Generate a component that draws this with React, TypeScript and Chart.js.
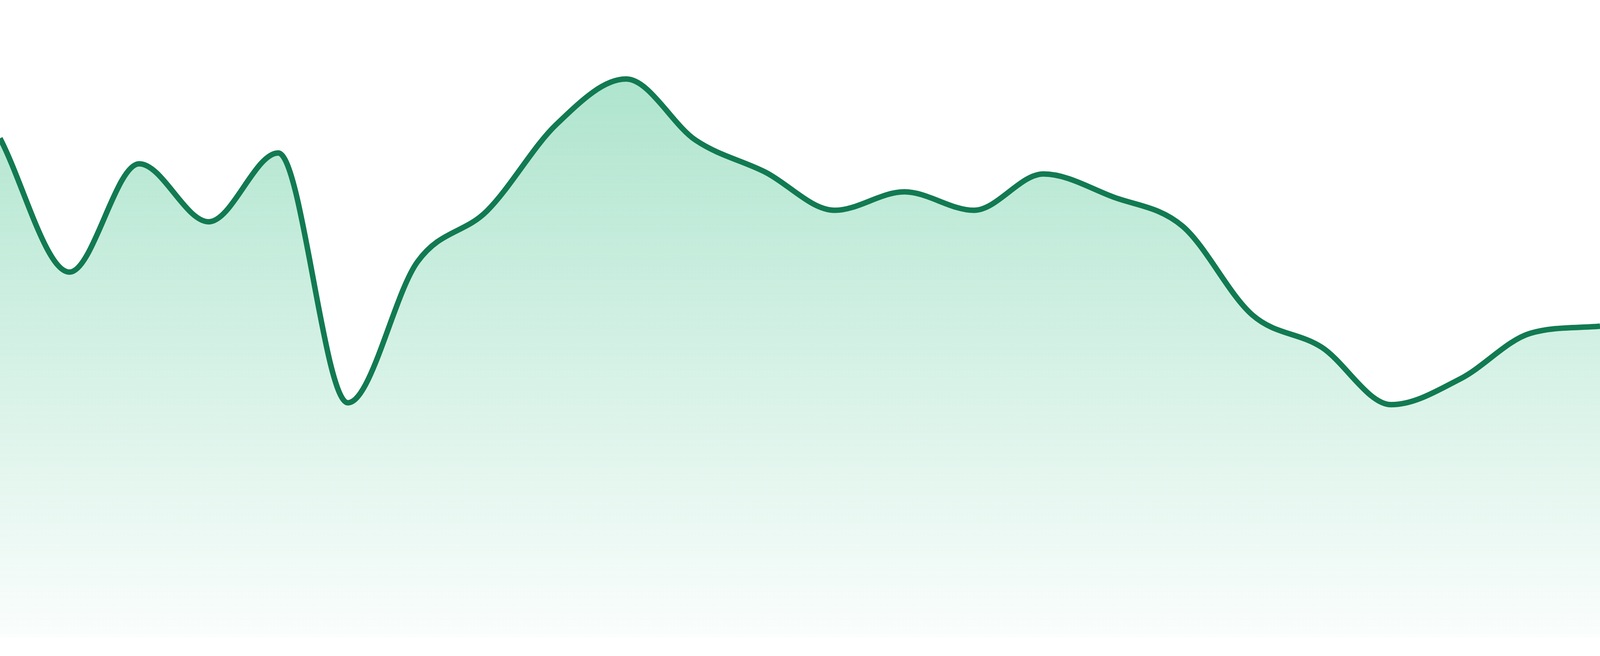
import { useEffect, useRef } from "react";
import { Chart, registerables } from "chart.js";

Chart.register(...registerables);

const labels = [
  "01", "02", "03", "04", "05", "06", "07", "08", "09", "10", "11", "12",
  "13", "14", "15", "16", "17", "18", "19", "20", "21", "22", "23", "24",
];

const values = [
  78.3, 57.3, 74.3, 65.2, 76.0, 36.8, 58.9, 66.9, 80.5, 87.6, 78.0, 73.0,
  67.0, 69.9, 67.0, 72.7, 69.1, 64.5, 50.6, 45.5, 36.5, 40.6, 47.7, 48.8,
];

const yRange = [0, 100];

export default function App() {
  const canvasRef = useRef<HTMLCanvasElement>(null);
  const chartRef = useRef<Chart | null>(null);

  useEffect(() => {
    if (!canvasRef.current) return;
    if (chartRef.current) chartRef.current.destroy();

    const ctx = canvasRef.current.getContext("2d");
    if (!ctx) return;

    // line thickness scaled to the viewport (about 14px on a 1680px tall page)
    const lineWidth = (14 * window.innerHeight) / 1680;

    chartRef.current = new Chart(ctx, {
      type: "line",
      data: {
        labels,
        datasets: [
          {
            data: values,
            borderColor: "#127a52",
            borderWidth: lineWidth,
            pointRadius: 0,
            cubicInterpolationMode: "monotone",
            fill: "start",
            backgroundColor: (context: any) => {
              const { chart } = context;
              const area = chart.chartArea;
              if (!area) return "rgba(16,176,110,0.2)";
              const g = chart.ctx.createLinearGradient(0, area.top, 0, area.bottom);
              g.addColorStop(0, "rgba(16,176,110,0.38)");
              g.addColorStop(1, "rgba(16,176,110,0.02)");
              return g;
            },
          },
        ],
      },
      options: {
        animation: false,
        responsive: true,
        maintainAspectRatio: false,
        layout: { padding: 0 },
        plugins: {
          legend: { display: false },
          tooltip: { enabled: false },
        },
        scales: {
          x: { display: false },
          y: { display: false, min: yRange[0], max: yRange[1] },
        },
      },
    });

    return () => {
      if (chartRef.current) {
        chartRef.current.destroy();
        chartRef.current = null;
      }
    };
  }, []);

  return (
    <div style={{ position: "absolute", left: 0, top: 0, width: "100vw", height: "97.142857vh" }}>
      <canvas ref={canvasRef}></canvas>
    </div>
  );
}
